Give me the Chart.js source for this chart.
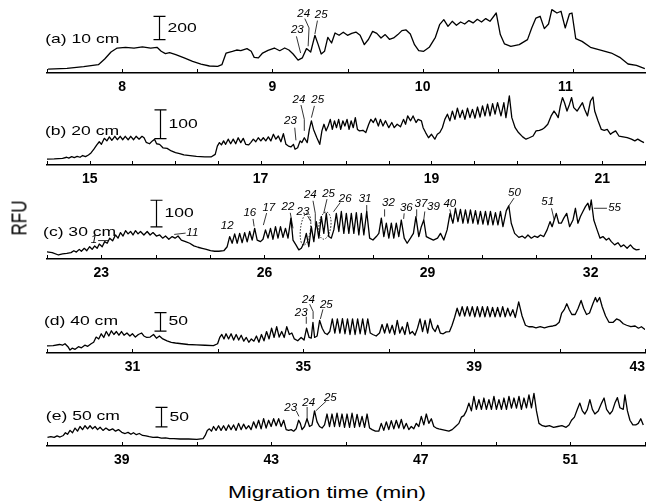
<!DOCTYPE html>
<html>
<head>
<meta charset="utf-8">
<script src="https://cdn.jsdelivr.net/npm/chart.js@4.4.1/dist/chart.umd.min.js"></script>
<style>
  html, body { margin: 0; padding: 0; background: #fff; }
  #fig { position: relative; width: 648px; height: 502px; overflow: hidden; font-family: "Liberation Sans", Arial, sans-serif; color: #000; }
  #fig canvas { position: absolute; left: 0; }
  #ylab { position: absolute; left: 20px; top: 218px; font-size: 17px; transform: translate(-50%, -50%) rotate(-90deg) scaleY(1.35); white-space: nowrap; }
  #xlab { position: absolute; left: 327px; top: 493px; font-size: 16px; transform: translate(-50%, -50%) scaleX(1.4); white-space: nowrap; }
</style>
</head>
<body>
<div id="fig">
  <canvas id="pa"></canvas>
  <canvas id="pb"></canvas>
  <canvas id="pc"></canvas>
  <canvas id="pd"></canvas>
  <canvas id="pe"></canvas>
  <div id="ylab">RFU</div>
  <div id="xlab">Migration time (min)</div>
</div>
<script>
// tick labels (minutes) for each panel
const ticksA = [8, 9, 10, 11];
const ticksB = [15, 17, 19, 21];
const ticksC = [23, 26, 29, 32];
const ticksD = [31, 35, 39, 43];
const ticksE = [39, 43, 47, 51];

// traces: [migration time (min), RFU]
const traceA = [
[7.507,34],[7.633,40],[7.744,54],[7.842,71],[7.884,120],[7.926,180],[7.967,214],[8.023,220],[8.079,214],[8.135,223],
[8.190,214],[8.232,220],[8.260,186],[8.288,166],[8.316,174],[8.357,157],[8.413,129],[8.469,100],[8.525,77],[8.581,60],
[8.636,57],[8.664,71],[8.692,171],[8.734,186],[8.762,197],[8.790,191],[8.831,209],[8.859,186],[8.879,134],[8.907,129],
[8.935,171],[8.971,194],[9.013,214],[9.049,191],[9.082,214],[9.110,197],[9.138,163],[9.171,111],[9.199,129],[9.227,209],
[9.255,180],[9.283,323],[9.305,243],[9.325,163],[9.347,186],[9.369,306],[9.394,257],[9.417,343],[9.444,323],[9.472,349],
[9.500,323],[9.528,340],[9.556,351],[9.584,323],[9.612,243],[9.640,289],[9.667,357],[9.695,340],[9.723,300],[9.751,329],
[9.779,289],[9.807,300],[9.835,329],[9.862,363],[9.890,369],[9.918,334],[9.946,243],[9.974,191],[10.007,186],[10.044,220],
[10.085,306],[10.113,414],[10.141,457],[10.169,400],[10.197,443],[10.225,409],[10.253,437],[10.280,420],[10.308,449],[10.336,429],
[10.364,460],[10.392,437],[10.420,466],[10.448,443],[10.490,514],[10.517,329],[10.545,249],[10.587,229],[10.643,243],[10.698,286],
[10.726,386],[10.754,471],[10.782,486],[10.810,380],[10.838,420],[10.860,543],[10.894,514],[10.921,529],[10.949,386],[10.977,506],
[10.994,514],[11.019,294],[11.061,271],[11.117,220],[11.172,200],[11.256,171],[11.312,134],[11.367,77],[11.423,66],[11.479,37]
];
const traceB = [
[14.486,20],[14.584,21],[14.682,23],[14.731,27],[14.755,24],[14.789,29],[14.819,26],[14.853,30],[14.887,27],[14.917,33],
[14.951,29],[14.985,35],[15.015,42],[15.049,55],[15.083,70],[15.112,81],[15.137,72],[15.171,93],[15.201,84],[15.230,98],
[15.259,86],[15.294,100],[15.323,88],[15.357,100],[15.387,88],[15.416,100],[15.450,88],[15.480,100],[15.514,88],[15.543,100],
[15.578,90],[15.612,100],[15.636,95],[15.661,79],[15.700,74],[15.734,84],[15.759,90],[15.783,74],[15.818,72],[15.857,60],
[15.906,58],[15.955,49],[16.004,43],[16.053,40],[16.102,35],[16.175,33],[16.249,30],[16.347,28],[16.420,28],[16.469,37],
[16.494,66],[16.518,78],[16.542,70],[16.567,84],[16.591,72],[16.621,90],[16.650,74],[16.680,90],[16.709,74],[16.738,95],
[16.768,78],[16.797,93],[16.826,72],[16.861,70],[16.885,78],[16.915,90],[16.944,81],[16.973,95],[17.003,84],[17.032,95],
[17.061,84],[17.091,98],[17.120,84],[17.150,107],[17.179,90],[17.208,101],[17.238,81],[17.267,109],[17.297,72],[17.326,66],
[17.355,63],[17.385,72],[17.404,55],[17.434,60],[17.463,84],[17.483,78],[17.512,95],[17.546,78],[17.571,124],[17.595,154],
[17.620,124],[17.659,95],[17.693,72],[17.718,119],[17.742,142],[17.767,119],[17.791,136],[17.816,159],[17.840,124],[17.865,154],
[17.889,130],[17.914,159],[17.938,124],[17.963,154],[17.987,136],[18.012,159],[18.036,124],[18.060,154],[18.085,130],[18.109,165],
[18.134,124],[18.158,119],[18.198,121],[18.232,113],[18.266,142],[18.291,159],[18.320,148],[18.345,163],[18.379,136],[18.403,159],
[18.433,136],[18.462,154],[18.501,130],[18.536,148],[18.565,130],[18.599,142],[18.638,133],[18.673,159],[18.697,142],[18.722,171],
[18.756,154],[18.785,171],[18.820,148],[18.844,159],[18.883,154],[18.903,130],[18.932,113],[18.966,95],[19.001,107],[19.040,90],
[19.069,107],[19.098,113],[19.128,130],[19.157,159],[19.187,177],[19.216,154],[19.245,188],[19.275,159],[19.304,198],[19.334,165],
[19.363,191],[19.392,159],[19.422,198],[19.451,165],[19.480,194],[19.510,163],[19.539,202],[19.569,167],[19.598,206],[19.627,171],
[19.657,212],[19.686,171],[19.716,214],[19.745,177],[19.774,217],[19.814,171],[19.848,217],[19.872,165],[19.912,241],[19.941,165],
[19.980,130],[20.019,113],[20.068,98],[20.107,90],[20.146,95],[20.190,101],[20.225,119],[20.264,121],[20.294,124],[20.323,130],
[20.362,142],[20.401,171],[20.435,188],[20.460,177],[20.484,165],[20.509,206],[20.534,235],[20.558,217],[20.587,188],[20.617,212],
[20.641,235],[20.666,200],[20.705,188],[20.744,206],[20.768,217],[20.793,194],[20.827,171],[20.862,223],[20.891,237],[20.911,188],
[20.950,154],[20.989,124],[21.023,121],[21.058,124],[21.097,107],[21.121,113],[21.156,119],[21.195,101],[21.244,98],[21.292,95],
[21.341,90],[21.381,84],[21.415,90],[21.449,84],[21.488,78]
];
const traceC = [
[21.943,28],[22.096,24],[22.211,15],[22.287,19],[22.364,21],[22.441,24],[22.494,31],[22.540,26],[22.594,36],[22.632,29],
[22.686,40],[22.732,31],[22.785,46],[22.831,36],[22.877,49],[22.923,40],[22.962,56],[23.015,46],[23.061,65],[23.107,59],
[23.153,78],[23.207,68],[23.260,90],[23.306,78],[23.352,99],[23.399,86],[23.445,106],[23.491,94],[23.537,103],[23.582,90],
[23.628,106],[23.674,94],[23.720,103],[23.782,90],[23.843,103],[23.897,90],[23.950,99],[24.012,86],[24.073,90],[24.127,78],
[24.180,86],[24.241,74],[24.303,84],[24.356,78],[24.410,86],[24.471,71],[24.548,65],[24.625,59],[24.701,49],[24.778,44],
[24.854,40],[24.931,36],[25.008,31],[25.084,29],[25.161,29],[25.253,31],[25.314,46],[25.360,84],[25.406,59],[25.452,94],
[25.498,59],[25.544,96],[25.590,61],[25.636,99],[25.682,64],[25.728,103],[25.774,71],[25.820,115],[25.866,71],[25.927,65],
[25.973,74],[26.019,109],[26.065,78],[26.111,115],[26.157,74],[26.203,121],[26.249,78],[26.295,121],[26.341,81],[26.387,115],
[26.433,78],[26.487,153],[26.525,71],[26.579,53],[26.632,34],[26.678,40],[26.724,59],[26.770,96],[26.816,46],[26.862,121],
[26.908,65],[26.954,140],[27.000,78],[27.046,159],[27.092,96],[27.138,171],[27.184,84],[27.230,78],[27.276,109],[27.322,171],
[27.368,103],[27.414,178],[27.460,96],[27.506,171],[27.552,96],[27.598,171],[27.644,96],[27.690,174],[27.736,90],[27.782,171],
[27.828,90],[27.881,178],[27.935,78],[27.996,71],[28.058,84],[28.104,96],[28.150,153],[28.196,84],[28.242,134],[28.288,78],
[28.334,134],[28.379,78],[28.425,134],[28.471,84],[28.517,146],[28.571,78],[28.625,59],[28.686,78],[28.740,96],[28.786,159],
[28.839,84],[28.885,121],[28.931,146],[28.977,84],[29.031,78],[29.107,71],[29.184,78],[29.238,96],[29.299,71],[29.360,109],
[29.414,171],[29.467,134],[29.513,190],[29.559,140],[29.605,186],[29.651,134],[29.697,184],[29.743,134],[29.789,184],[29.835,134],
[29.881,181],[29.927,131],[29.973,178],[30.019,131],[30.065,178],[30.111,128],[30.157,178],[30.203,128],[30.249,174],[30.295,128],
[30.341,178],[30.387,121],[30.449,181],[30.495,199],[30.540,134],[30.602,96],[30.679,81],[30.740,86],[30.794,78],[30.847,90],
[30.909,78],[30.970,86],[31.023,81],[31.077,90],[31.138,84],[31.199,109],[31.253,140],[31.291,121],[31.330,146],[31.368,171],
[31.414,134],[31.460,134],[31.506,153],[31.560,171],[31.613,121],[31.675,146],[31.720,190],[31.766,134],[31.812,159],[31.858,178],
[31.904,196],[31.950,209],[31.981,184],[32.011,221],[32.058,146],[32.119,109],[32.173,78],[32.226,84],[32.288,71],[32.334,78],
[32.380,65],[32.441,53],[32.502,61],[32.556,46],[32.609,53],[32.671,40],[32.732,53],[32.786,40],[32.840,34],[32.901,36]
];
const traceD = [
[28.967,19],[29.144,20],[29.292,23],[29.362,21],[29.421,25],[29.490,17],[29.539,8],[29.589,13],[29.658,10],[29.737,17],
[29.806,14],[29.885,21],[29.954,18],[30.033,25],[30.092,29],[30.151,43],[30.211,38],[30.270,52],[30.329,42],[30.388,58],
[30.448,46],[30.507,60],[30.566,50],[30.625,58],[30.684,48],[30.744,58],[30.803,48],[30.872,54],[30.941,46],[31.000,52],
[31.069,43],[31.139,50],[31.217,54],[31.267,46],[31.336,42],[31.415,43],[31.494,50],[31.563,40],[31.632,46],[31.711,38],
[31.810,33],[31.909,29],[32.007,27],[32.155,25],[32.303,23],[32.501,22],[32.698,21],[32.896,20],[32.994,25],[33.044,42],
[33.093,50],[33.143,38],[33.192,52],[33.251,38],[33.310,52],[33.370,35],[33.429,50],[33.488,35],[33.547,48],[33.607,32],
[33.666,42],[33.725,29],[33.784,38],[33.844,32],[33.903,46],[33.962,29],[34.021,50],[34.080,33],[34.140,58],[34.199,38],
[34.258,67],[34.317,42],[34.377,71],[34.436,43],[34.495,58],[34.554,42],[34.613,71],[34.673,50],[34.732,54],[34.791,38],
[34.870,33],[34.949,42],[35.018,35],[35.077,67],[35.137,42],[35.186,40],[35.226,83],[35.265,42],[35.324,46],[35.383,88],
[35.443,67],[35.502,54],[35.561,50],[35.620,58],[35.680,92],[35.739,54],[35.798,92],[35.857,54],[35.917,93],[35.976,52],
[36.035,92],[36.094,50],[36.153,92],[36.213,50],[36.272,92],[36.331,52],[36.390,92],[36.450,50],[36.509,92],[36.568,54],
[36.627,50],[36.706,46],[36.785,54],[36.845,77],[36.904,54],[36.963,79],[37.022,54],[37.081,75],[37.141,50],[37.200,88],
[37.259,54],[37.318,71],[37.378,50],[37.437,83],[37.496,52],[37.555,58],[37.614,48],[37.674,67],[37.733,92],[37.792,58],
[37.851,88],[37.911,54],[37.970,92],[38.029,67],[38.088,58],[38.148,75],[38.207,54],[38.276,52],[38.345,57],[38.424,58],
[38.483,75],[38.542,96],[38.602,121],[38.661,100],[38.720,125],[38.779,100],[38.839,125],[38.898,100],[38.957,125],[39.016,98],
[39.075,125],[39.135,98],[39.194,125],[39.253,98],[39.312,125],[39.372,98],[39.431,123],[39.490,98],[39.549,123],[39.609,98],
[39.668,125],[39.727,98],[39.786,121],[39.846,100],[39.905,117],[39.964,96],[40.043,138],[40.122,100],[40.201,75],[40.280,71],
[40.359,71],[40.448,68],[40.547,71],[40.645,68],[40.744,71],[40.843,73],[40.912,75],[40.991,83],[41.050,108],[41.109,117],
[41.169,133],[41.228,117],[41.287,104],[41.366,104],[41.435,121],[41.504,142],[41.563,121],[41.632,104],[41.701,108],[41.780,133],
[41.840,150],[41.879,138],[41.938,150],[41.998,125],[42.077,100],[42.156,83],[42.255,83],[42.334,92],[42.413,88],[42.491,79],
[42.570,75],[42.669,71],[42.768,73],[42.847,67],[42.916,71],[42.985,65],[43.0,63]
];
const traceE = [
[37.013,22],[37.103,24],[37.192,22],[37.270,26],[37.348,23],[37.437,27],[37.493,34],[37.549,30],[37.616,40],[37.683,34],
[37.750,46],[37.817,38],[37.884,50],[37.951,42],[38.018,52],[38.085,44],[38.152,52],[38.219,44],[38.286,50],[38.353,42],
[38.420,48],[38.498,40],[38.576,46],[38.665,40],[38.755,44],[38.833,38],[38.911,42],[39.000,35],[39.090,32],[39.168,35],
[39.246,30],[39.313,34],[39.391,29],[39.469,32],[39.558,27],[39.648,26],[39.737,24],[39.837,22],[39.949,23],[40.061,20],
[40.172,21],[40.284,19],[40.395,19],[40.563,18],[40.786,18],[41.010,17],[41.177,19],[41.233,27],[41.289,40],[41.345,44],
[41.400,38],[41.456,50],[41.523,40],[41.590,52],[41.657,40],[41.724,52],[41.791,40],[41.858,54],[41.925,42],[41.992,54],
[42.059,40],[42.126,58],[42.193,42],[42.260,56],[42.327,44],[42.394,52],[42.461,42],[42.528,62],[42.595,46],[42.662,66],
[42.729,44],[42.796,70],[42.863,46],[42.930,66],[42.997,50],[43.064,70],[43.131,52],[43.198,70],[43.265,50],[43.332,66],
[43.399,42],[43.466,40],[43.533,42],[43.600,38],[43.666,44],[43.733,66],[43.778,58],[43.823,42],[43.890,50],[43.957,70],
[44.024,50],[44.091,54],[44.158,90],[44.225,62],[44.292,50],[44.359,46],[44.426,54],[44.493,82],[44.559,50],[44.626,82],
[44.693,50],[44.760,84],[44.827,50],[44.894,82],[44.961,48],[45.028,82],[45.095,48],[45.162,84],[45.229,48],[45.296,81],
[45.363,50],[45.430,76],[45.497,48],[45.564,82],[45.631,46],[45.698,42],[45.787,38],[45.877,38],[45.944,58],[46.011,40],
[46.078,62],[46.145,42],[46.212,65],[46.279,44],[46.346,66],[46.413,46],[46.480,68],[46.547,44],[46.614,58],[46.681,42],
[46.747,50],[46.814,44],[46.881,58],[46.948,50],[47.015,76],[47.082,54],[47.149,82],[47.216,58],[47.283,70],[47.350,50],
[47.417,46],[47.484,44],[47.573,42],[47.663,40],[47.752,38],[47.841,42],[47.931,50],[48.020,58],[48.087,74],[48.154,78],
[48.221,90],[48.288,110],[48.355,90],[48.422,127],[48.489,94],[48.556,119],[48.623,94],[48.690,123],[48.757,94],[48.824,119],
[48.891,94],[48.958,127],[49.025,94],[49.092,119],[49.159,94],[49.226,123],[49.293,94],[49.360,127],[49.427,97],[49.494,123],
[49.561,97],[49.628,127],[49.694,94],[49.761,123],[49.828,98],[49.895,131],[49.962,98],[50.029,135],[50.096,90],[50.163,58],
[50.253,52],[50.342,50],[50.442,52],[50.554,48],[50.665,50],[50.777,52],[50.889,48],[50.967,54],[51.034,66],[51.112,74],
[51.190,94],[51.257,110],[51.324,90],[51.391,82],[51.458,94],[51.525,119],[51.592,94],[51.659,82],[51.749,90],[51.838,110],
[51.905,123],[51.972,94],[52.061,82],[52.128,90],[52.195,110],[52.262,124],[52.329,98],[52.418,94],[52.463,131],[52.530,90],
[52.597,66],[52.675,54],[52.753,54],[52.820,58],[52.887,70],[52.954,54]
];

// scale bars: [time, low RFU, high RFU, label]
const barA = [8.246, 286, 486, '200'];
const barB = [15.823, 92, 192, '100'];
const barC = [24.012, 120, 220, '100'];
const barD = [31.642, 59, 109, '50'];
const barE = [40.038, 49, 99, '50'];

// peak numbers: label position and leader line, in [time, RFU]
const peaksA = [
  { text: '23', at: [9.166, 371], path: [[9.160, 314], [9.188, 171]] },
  { text: '24', at: [9.208, 506], path: [[9.216, 466], [9.244, 386], [9.238, 229]] },
  { text: '25', at: [9.325, 500], path: [[9.300, 449], [9.283, 334]] }
];
const peaksB = [
  { text: '23', at: [17.350, 154], path: [[17.400, 130], [17.414, 86]] },
  { text: '24', at: [17.449, 226], path: [[17.473, 209], [17.512, 159], [17.512, 119]] },
  { text: '25', at: [17.669, 226], path: [[17.630, 206], [17.595, 165]] }
];
const peaksC = [
  { text: '1', at: [22.862, 71], path: [[22.94, 69], [23.13, 69]] },
  { text: '11', at: [24.674, 99], path: [[24.34, 92], [24.55, 97]] },
  { text: '12', at: [25.316, 124], path: null },
  { text: '16', at: [25.731, 171], path: [[25.79, 150], [25.81, 122]] },
  { text: '17', at: [26.08, 190], path: [[26.04, 172], [25.98, 127]] },
  { text: '22', at: [26.434, 194], path: [[26.475, 173], [26.525, 115]] },
  { text: '23', at: [26.709, 177], path: [[26.795, 161], [26.855, 140]] },
  { text: '24', at: [26.844, 240], path: [[26.893, 218], [26.935, 171], [26.935, 125]] },
  { text: '25', at: [27.18, 243], path: [[27.15, 224], [27.09, 171]] },
  { text: '26', at: [27.485, 224], path: [[27.393, 211], [27.271, 177]] },
  { text: '31', at: [27.851, 226], path: [[27.881, 202], [27.881, 171]] },
  { text: '32', at: [28.28, 209], path: [[28.21, 186], [28.21, 159]] },
  { text: '36', at: [28.61, 190], path: [[28.57, 171], [28.56, 150]] },
  { text: '37', at: [28.88, 206], path: [[28.80, 186], [28.80, 159]] },
  { text: '39', at: [29.11, 196], path: [[28.95, 178], [28.93, 146]] },
  { text: '40', at: [29.41, 206], path: [[29.41, 186], [29.44, 159]] },
  { text: '50', at: [30.60, 246], path: [[30.59, 228], [30.495, 199]] },
  { text: '51', at: [31.21, 215], path: [[31.28, 190], [31.33, 146]] },
  { text: '55', at: [32.44, 190], path: [[32.06, 190], [32.30, 190]] }
];
const peaksD = [
  { text: '23', at: [34.95, 108], path: [[35.07, 98], [35.07, 79]] },
  { text: '24', at: [35.12, 143], path: [[35.15, 132], [35.23, 112], [35.23, 92]] },
  { text: '25', at: [35.54, 129], path: [[35.46, 118], [35.40, 92]] }
];
const peaksE = [
  { text: '23', at: [43.52, 97], path: [[43.67, 90], [43.74, 76]] },
  { text: '24', at: [44.00, 110], path: [[43.96, 100], [43.96, 70]] },
  { text: '25', at: [44.58, 124], path: [[44.47, 115], [44.19, 90]] }
];
// dotted ellipses in panel (c): centre [time, RFU], radii [min, RFU]
const ellipsesC = [
  { c: [26.755, 112], r: [0.092, 60] },
  { c: [27.112, 125], r: [0.11, 51] }
];

const FONT = '"Liberation Sans", Arial, sans-serif';
const PLOT_H = 75;   // px above the axis line
const AXIS_H = 24;   // px below it for tick labels

const panels = [
  { id: 'pa', axisY: 73,  pxPerRfu: 0.1167, min: 7.5, max: 11.48, step: 0.5, labels: ticksA, trace: traceA, name: '(a) 10 cm', nameAt: [7.488, 286], bar: barA, peaks: peaksA },
  { id: 'pb', axisY: 165, pxPerRfu: 0.287,  min: 14.5, max: 21.5, step: 0.5, labels: ticksB, trace: traceB, name: '(b) 20 cm', nameAt: [14.476, 118], bar: barB, peaks: peaksB },
  { id: 'pc', axisY: 259, pxPerRfu: 0.267,  min: 22, max: 33, step: 1, labels: ticksC, trace: traceC, name: '(c) 30 cm', nameAt: [21.927, 101], bar: barC, peaks: peaksC, ellipses: ellipsesC },
  { id: 'pd', axisY: 353, pxPerRfu: 0.37,   min: 29, max: 43, step: 2, labels: ticksD, trace: traceD, name: '(d) 40 cm', nameAt: [28.927, 84], bar: barD, peaks: peaksD },
  { id: 'pe', axisY: 446, pxPerRfu: 0.39,   min: 37, max: 53, step: 2, labels: ticksE, trace: traceE, name: '(e) 50 cm', nameAt: [36.969, 75], bar: barE, peaks: peaksE }
];

function stretchText(ctx, s, x, y, font, sx, align) {
  ctx.save();
  ctx.font = font;
  ctx.textAlign = align;
  ctx.textBaseline = 'middle';
  ctx.translate(x, y);
  ctx.scale(sx, 1);
  ctx.fillText(s, 0, 0);
  ctx.restore();
}

function overlayPlugin(p) {
  return {
    id: 'overlay',
    afterDraw(chart) {
      const { ctx, chartArea, scales: { x, y } } = chart;
      const px = t => x.getPixelForValue(t);
      const py = v => y.getPixelForValue(v);
      ctx.save();
      ctx.strokeStyle = '#000';
      ctx.fillStyle = '#000';

      // small upward tick marks on the axis
      ctx.lineWidth = 1;
      x.ticks.forEach(tk => {
        const X = Math.round(px(tk.value)) + 0.5;
        ctx.beginPath();
        ctx.moveTo(X, chartArea.bottom);
        ctx.lineTo(X, chartArea.bottom - 4);
        ctx.stroke();
      });

      // panel name
      stretchText(ctx, p.name, px(p.nameAt[0]), py(p.nameAt[1]), '13px ' + FONT, 1.35, 'left');

      // scale bar
      const [bt, lo, hi, bl] = p.bar;
      const bx = Math.round(px(bt)) + 0.5;
      ctx.lineWidth = 1.2;
      ctx.beginPath();
      ctx.moveTo(bx, py(lo)); ctx.lineTo(bx, py(hi));
      ctx.moveTo(bx - 6, py(lo)); ctx.lineTo(bx + 6, py(lo));
      ctx.moveTo(bx - 6, py(hi)); ctx.lineTo(bx + 6, py(hi));
      ctx.stroke();
      stretchText(ctx, bl, bx + 8, py((lo + hi) / 2), '13px ' + FONT, 1.35, 'left');

      // peak numbers with leader lines
      ctx.lineWidth = 0.8;
      p.peaks.forEach(pk => {
        if (pk.path) {
          ctx.beginPath();
          pk.path.forEach(([t, v], i) => i ? ctx.lineTo(px(t), py(v)) : ctx.moveTo(px(t), py(v)));
          ctx.stroke();
        }
        stretchText(ctx, pk.text, px(pk.at[0]), py(pk.at[1]), 'italic 11px ' + FONT, 1.05, 'center');
      });

      // dotted ellipses
      (p.ellipses || []).forEach(e => {
        const cx = px(e.c[0]), cy = py(e.c[1]);
        const rx = px(e.c[0] + e.r[0]) - cx, ry = cy - py(e.c[1] + e.r[1]);
        ctx.save();
        ctx.setLineDash([1.5, 1.5]);
        ctx.lineWidth = 0.9;
        ctx.beginPath();
        ctx.ellipse(cx, cy, rx, ry, 0.12, 0, Math.PI * 2);
        ctx.stroke();
        ctx.restore();
      });
      ctx.restore();
    }
  };
}

panels.forEach(p => {
  const canvas = document.getElementById(p.id);
  canvas.width = 648;
  canvas.height = PLOT_H + AXIS_H;
  canvas.style.top = (p.axisY - PLOT_H) + 'px';

  const tickVals = [];
  for (let v = p.min; v <= p.max + 1e-9; v += p.step) tickVals.push(Math.round(v * 1000) / 1000);

  new Chart(canvas.getContext('2d'), {
    type: 'line',
    data: {
      datasets: [{
        data: p.trace.map(([t, v]) => ({ x: t, y: v })),
        borderColor: '#000',
        borderWidth: 1.3,
        pointRadius: 0,
        tension: 0,
        borderJoinStyle: 'round'
      }]
    },
    options: {
      responsive: false,
      animation: false,
      events: [],
      layout: { padding: { left: 47, right: 3, top: 0, bottom: 0 } },
      plugins: { legend: { display: false }, tooltip: { enabled: false } },
      scales: {
        x: {
          type: 'linear',
          min: p.min,
          max: p.max,
          afterBuildTicks: s => { s.ticks = tickVals.map(v => ({ value: v })); },
          afterFit: s => { s.height = AXIS_H; s.paddingLeft = 0; s.paddingRight = 0; },
          grid: { display: false, drawTicks: false },
          border: { display: true, color: '#000', width: 1.5 },
          ticks: {
            autoSkip: false,
            maxRotation: 0,
            align: 'inner',
            padding: 6,
            color: '#000',
            font: { family: FONT, size: 14, weight: 'bold' },
            callback: v => p.labels.some(l => Math.abs(l - v) < 1e-6) ? String(v) : ''
          }
        },
        y: { display: false, min: 0, max: PLOT_H / p.pxPerRfu }
      }
    },
    plugins: [overlayPlugin(p)]
  });
});
</script>
</body>
</html>
